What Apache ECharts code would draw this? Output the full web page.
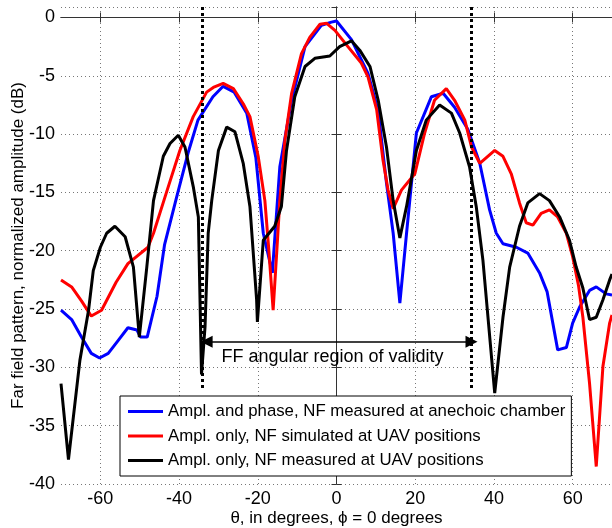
<!DOCTYPE html>
<html>
<head>
<meta charset="utf-8">
<script src="https://cdn.jsdelivr.net/npm/echarts@6/dist/echarts.min.js"></script>
<style>
  html, body { margin: 0; padding: 0; background: #fff; }
  #chart-container { width: 612px; height: 528px; }
</style>
</head>
<body>
<div id="chart-container"></div>
<script>
// theta (deg) and normalized amplitude (dB)
var blueTheta = [-70, -67.3, -64.8, -62.3, -60.2, -58, -55.5, -53, -50.7, -49.8, -48.1, -45.6, -43.7, -40.7, -37.7, -35.2, -31.4, -28.8, -26, -22.8, -20.5, -18.6, -16.3, -14.4, -11.4, -8, -3.8, -1.3, 0, 3.8, 8, 10.6, 12.7, 14.4, 16.1, 17.8, 20.3, 24.1, 27.1, 30, 33.4, 36.4, 38.9, 40.6, 42.3, 45.7, 48.6, 51.6, 53.5, 56.2, 58.4, 60, 61.8, 64.3, 66, 68.5, 70];
var blueAmp = [-25.1, -25.9, -27.4, -28.8, -29.2, -28.8, -27.7, -26.6, -26.8, -27.4, -27.4, -23.9, -19.5, -15.5, -11.6, -8.8, -6.8, -5.9, -6.4, -8.2, -12, -18.5, -21.9, -12.8, -7.1, -2.5, -0.66, -0.4, -0.3, -1.9, -4.8, -8, -14.2, -18.5, -24.5, -18.5, -9.9, -6.8, -6.5, -7.7, -9.6, -12.5, -16.5, -18.5, -19.4, -19.7, -20.2, -21.9, -23.5, -28.5, -28.3, -26.2, -24.8, -23.4, -23.1, -23.7, -23.8];

var redTheta = [-70, -67.3, -64.8, -62.3, -59.7, -56, -53, -47.9, -46.5, -43.3, -39.8, -36.4, -33, -31.3, -28.8, -26.2, -23.7, -22, -19.9, -18.2, -17.2, -16.1, -15.2, -14.4, -13.1, -11.4, -8.9, -6.8, -4.2, -2.5, -0.4, 2.9, 6.3, 8, 10.2, 11.8, 13.1, 14.4, 16.5, 19.9, 22.4, 24.9, 27.9, 30, 32.6, 34.3, 36.4, 40.2, 42.3, 44.4, 46.5, 48.2, 49.9, 52, 54.1, 56.2, 58.4, 60, 61.5, 62.6, 64.3, 66, 67.7, 69.4, 70];
var redAmp = [-22.5, -23.1, -24.3, -25.6, -25.1, -22.7, -21.1, -19.7, -18.5, -15.1, -11.4, -8.5, -6.4, -6.0, -5.65, -6.1, -7.4, -8.5, -11.9, -15.7, -19.9, -25.1, -20.2, -15.7, -10.5, -6.5, -3.1, -1.7, -0.57, -0.5, -1.1, -2.5, -3.9, -5.1, -7.9, -12.2, -14.8, -16.4, -14.8, -13.4, -9.9, -7.1, -6.1, -7.1, -8.8, -11.1, -12.5, -11.4, -11.9, -13.4, -15.9, -17.6, -17.8, -16.8, -16.5, -17.1, -18.5, -20.5, -23, -25.7, -31.4, -38.5, -29.9, -26.2, -25.5];

var blackTheta = [-70, -68.1, -65.2, -63, -61.8, -60, -58.4, -56.3, -53.7, -51.6, -50.1, -48.2, -46.5, -44, -42.3, -40.2, -38.5, -36.4, -35.1, -34.3, -33.4, -32.6, -31.7, -30, -27.9, -25.8, -23.7, -22, -20.3, -20.1, -18.6, -15.7, -14, -12.7, -10.6, -8, -5.5, -1.7, 0.8, 3.8, 5.9, 8.5, 10.6, 12.7, 14.4, 16.1, 17.8, 20.3, 22.8, 26.2, 29.2, 31.3, 33.8, 35.5, 37.2, 40.2, 42.3, 44, 46.5, 48.6, 51.6, 54.1, 56.7, 59.2, 60.9, 62.6, 64.3, 66, 67.7, 69.4, 70];
var blackAmp = [-31.4, -37.9, -29.4, -25.1, -21.7, -19.7, -18.5, -17.9, -18.8, -21.4, -27.4, -21.4, -15.7, -11.9, -10.8, -10.1, -11.1, -14.5, -17.1, -30.6, -26.5, -18.5, -15.7, -11.4, -9.4, -9.8, -12.5, -16.2, -24.2, -26.1, -19.1, -17.9, -16.2, -11.4, -6.8, -4.2, -3.5, -3.3, -2.5, -2.0, -2.8, -4.2, -7.1, -11.1, -15.7, -18.9, -16.2, -11.4, -8.8, -7.5, -8.2, -9.9, -12.8, -16.2, -20.8, -32.2, -25.7, -21.4, -17.9, -15.9, -15.1, -15.7, -17.1, -19.1, -21.4, -23.2, -25.9, -25.7, -24.2, -22.5, -22];

var seriesNames = [
    'Ampl. and phase, NF measured at anechoic chamber',
    'Ampl. only, NF simulated at UAV positions',
    'Ampl. only, NF measured at UAV positions'
];
var seriesColors = ['#0000ff', '#ff0000', '#000000'];

// FF angular region of validity annotation
var validityEdges = [-34, 34.3];
var validityLineEnds = [0.9, -32];
var arrowEnds = [-33, 34.3];
var arrowLevel = -27.8;
var validityLabel = 'FF angular region of validity';
var validityLabelPos = [-1, -29.1];

var xTicks = [-60, -40, -20, 0, 20, 40, 60];
var yMin = -40, yMax = 0.9, yStep = 5;

function zip(xs, ys) {
    var out = [];
    for (var i = 0; i < xs.length; i++) out.push([xs[i], ys[i]]);
    return out;
}

var font = 'Liberation Sans, Arial, Helvetica, sans-serif';
var gridLine = { show: true, lineStyle: { color: '#777', width: 1, type: [1, 3] } };
var frameLine = { show: true, lineStyle: { color: '#333', width: 1 } };
var inTick = { show: true, inside: true, length: 5, lineStyle: { color: '#333' } };
var legendIcon = 'path://M0,0H35V3H0Z';

var option = {
    animation: false,
    backgroundColor: '#fff',
    textStyle: { fontFamily: font },
    grid: { left: 61, right: 0, top: 7, bottom: 44, containLabel: false, outerBoundsMode: 'none' },
    legend: {
        data: seriesNames.map(function (n) { return { name: n, icon: legendIcon }; }),
        orient: 'vertical',
        left: 120,
        top: 396,
        backgroundColor: '#fff',
        borderColor: '#000',
        borderWidth: 1,
        padding: [7, 6, 7, 8],
        itemWidth: 35,
        itemHeight: 14,
        itemGap: 7.5,
        textStyle: { fontSize: 16.8, color: '#000', fontFamily: font },
        selectedMode: false
    },
    xAxis: [
        {
            type: 'value', min: -70, max: 70, splitNumber: 7,
            name: 'θ, in degrees, ϕ = 0 degrees',
            nameLocation: 'middle', nameGap: 26, nameMoveOverlap: false,
            nameTextStyle: { fontSize: 17, color: '#000' },
            axisLine: frameLine, splitLine: gridLine,
            axisLabel: { fontSize: 18, color: '#000', margin: 6, customValues: xTicks },
            axisTick: { show: true, inside: true, length: 5, lineStyle: { color: '#333' }, customValues: xTicks }
        },
        {
            type: 'value', min: -70, max: 70, splitNumber: 7, position: 'top',
            axisLine: frameLine, splitLine: { show: false }, axisLabel: { show: false },
            axisTick: { show: true, inside: true, length: 5, lineStyle: { color: '#333' }, customValues: xTicks }
        }
    ],
    yAxis: [
        {
            type: 'value', min: yMin, max: yMax, interval: yStep,
            name: 'Far field pattern, normalized amplitude (dB)',
            nameLocation: 'middle', nameGap: 34, nameMoveOverlap: false,
            nameTextStyle: { fontSize: 17, color: '#000' },
            axisLine: frameLine, axisTick: inTick, splitLine: gridLine,
            axisLabel: { fontSize: 18, color: '#000', margin: 6, showMaxLabel: false }
        },
        {
            type: 'value', min: yMin, max: yMax, interval: yStep, position: 'right',
            axisLine: frameLine, axisTick: inTick, splitLine: { show: false },
            axisLabel: { show: false }
        }
    ],
    series: [
        {
            name: seriesNames[0], type: 'line', data: zip(blueTheta, blueAmp),
            showSymbol: false, symbol: 'none', color: seriesColors[0],
            lineStyle: { width: 3, color: seriesColors[0] }, z: 3
        },
        {
            name: seriesNames[1], type: 'line', data: zip(redTheta, redAmp),
            showSymbol: false, symbol: 'none', color: seriesColors[1],
            lineStyle: { width: 3, color: seriesColors[1] }, z: 4
        },
        {
            name: seriesNames[2], type: 'line', data: zip(blackTheta, blackAmp),
            showSymbol: false, symbol: 'none', color: seriesColors[2],
            lineStyle: { width: 3, color: seriesColors[2] }, z: 5
        },
        {
            name: 'annotation', type: 'line', data: [], z: 6,
            markLine: {
                silent: true, animation: false,
                label: { show: false },
                data: [
                    [
                        { coord: [validityEdges[0], validityLineEnds[0]], symbol: 'none', lineStyle: { color: '#000', width: 3, type: [3, 3] } },
                        { coord: [validityEdges[0], validityLineEnds[1]], symbol: 'none' }
                    ],
                    [
                        { coord: [validityEdges[1], validityLineEnds[0]], symbol: 'none', lineStyle: { color: '#000', width: 3, type: [3, 3] } },
                        { coord: [validityEdges[1], validityLineEnds[1]], symbol: 'none' }
                    ],
                    [
                        { coord: [arrowEnds[0], arrowLevel], symbol: 'triangle', symbolSize: 12, lineStyle: { color: '#000', width: 1.5, type: 'solid' } },
                        { coord: [arrowEnds[1], arrowLevel], symbol: 'triangle', symbolSize: 12 }
                    ]
                ]
            },
            markPoint: {
                silent: true,
                symbol: 'circle', symbolSize: 0,
                data: [{ coord: validityLabelPos }],
                label: {
                    show: true, formatter: validityLabel,
                    fontSize: 18, color: '#000', fontFamily: font,
                    position: 'inside'
                }
            }
        }
    ]
};

var myChart = echarts.init(document.getElementById('chart-container'));
myChart.setOption(option);
</script>
</body>
</html>
